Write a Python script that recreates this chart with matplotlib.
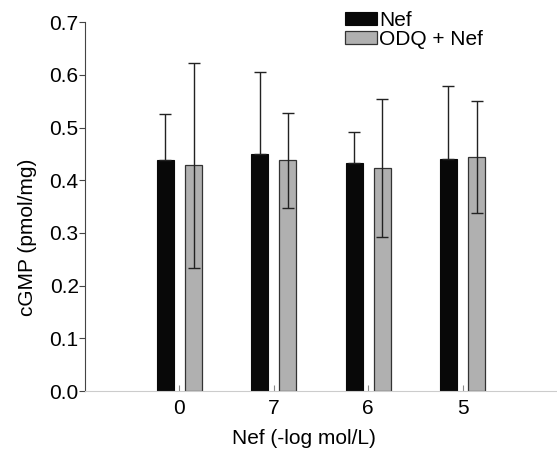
import matplotlib
matplotlib.use("Agg")
import matplotlib.pyplot as plt
import numpy as np

plt.rcParams["font.family"] = ["Liberation Sans", "DejaVu Sans"]

categorias = ["0", "7", "6", "5"]
nef = [0.438, 0.449, 0.432, 0.440]
nef_err = [0.088, 0.156, 0.059, 0.138]
odq = [0.428, 0.438, 0.424, 0.444]
odq_err = [0.194, 0.090, 0.131, 0.107]

pos = np.arange(1, len(categorias) + 1)
ancho = 0.18
desp = 0.15
fs = 15

fig = plt.figure(figsize=(5.57, 4.51), dpi=100)
ax = fig.add_axes([0.1526, 0.133, 0.8474, 0.818])

ax.bar(pos - desp, nef, ancho, color="#080808", edgecolor="#080808", linewidth=0.8,
       label="Nef", zorder=2)
ax.errorbar(pos - desp, nef, yerr=[np.zeros(len(nef)), nef_err], fmt="none",
            ecolor="#222222", elinewidth=1, capsize=4, capthick=1, zorder=3)
ax.bar(pos + desp, odq, ancho, color="#b0b0b0", edgecolor="#333333", linewidth=0.9,
       label="ODQ + Nef", zorder=2)
ax.errorbar(pos + desp, odq, yerr=odq_err, fmt="none",
            ecolor="#222222", elinewidth=1, capsize=4, capthick=1, zorder=3)

ax.set_xlim(0, 5)
ax.set_ylim(0, 0.7)
ax.set_yticks(np.arange(0, 0.71, 0.1))
ax.set_yticklabels([f"{v:.1f}" for v in np.arange(0, 0.71, 0.1)])
ax.set_xticks(pos)
ax.set_xticklabels(categorias)
ax.set_xticks([5], minor=True)

for s in ["top", "right"]:
    ax.spines[s].set_visible(False)
ax.spines["left"].set_color("#444444")
ax.spines["bottom"].set_color("#cccccc")
ax.tick_params(axis="y", direction="out", length=4, color="#444444", labelsize=fs, pad=0.5)
ax.tick_params(axis="x", which="both", direction="in", length=4, color="#888888",
               labelsize=fs, pad=6)

ax.set_ylabel("cGMP (pmol/mg)", fontsize=fs)
ax.yaxis.set_label_coords(-0.101, 0.417)
ax.set_xlabel("Nef (-log mol/L)", fontsize=fs)
ax.xaxis.set_label_coords(0.463, -0.103)

ax.legend(loc="upper left", bbox_to_anchor=(0.551, 1.03), frameon=False, fontsize=fs,
          handlelength=1.55, handleheight=0.6, handletextpad=0.1, labelspacing=0.0,
          borderaxespad=0, borderpad=0)

fig.savefig("out.png", dpi=100)
